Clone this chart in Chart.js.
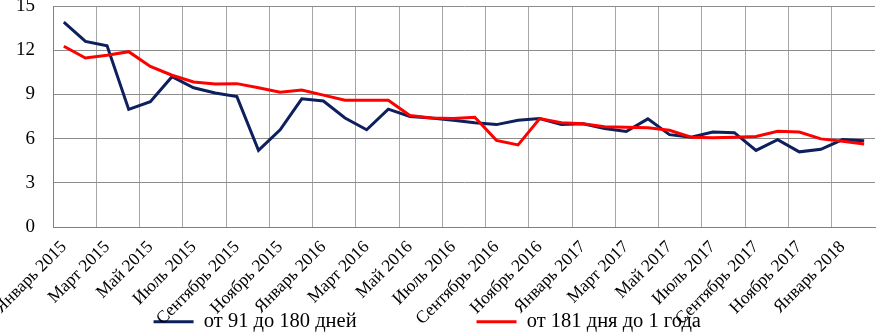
<!DOCTYPE html>
<html>
<head>
<meta charset="utf-8">
<script src="https://cdn.jsdelivr.net/npm/chart.js@4"></script>
<style>
  html, body { margin: 0; padding: 0; background: #fff; }
  #wrap { width: 876px; height: 332px; }
</style>
</head>
<body>
<div id="wrap"><canvas id="myChart"></canvas></div>
<script>
// months Jan 2015 .. Feb 2018
var months = ['Январь', 'Февраль', 'Март', 'Апрель', 'Май', 'Июнь', 'Июль',
    'Август', 'Сентябрь', 'Октябрь', 'Ноябрь', 'Декабрь'];
var years = [2015, 2016, 2017, 2018];
var labList = [];
for (var y = 0; y < years.length; y++) {
    for (var m = 0; m < 12; m++) {
        if (years[y] === 2018 && m > 1) break;
        labList.push(months[m] + ' ' + years[y]);
    }
}

var seriesNames = ['от 91 до 180 дней', 'от 181 дня до 1 года'];

// от 91 до 180 дней
var dataList1 = [13.9, 12.6, 12.3, 7.98, 8.5, 10.2, 9.45, 9.1, 8.85, 5.2,
    6.6, 8.7, 8.55, 7.4, 6.6, 8.0, 7.5, 7.4, 7.25, 7.07,
    6.95, 7.25, 7.36, 6.95, 7.0, 6.68, 6.48, 7.34, 6.27, 6.1,
    6.45, 6.4, 5.2, 5.93, 5.1, 5.27, 5.93, 5.86];

// от 181 дня до 1 года
var dataList2 = [12.27, 11.47, 11.66, 11.9, 10.9, 10.3, 9.84, 9.7, 9.73, 9.45,
    9.15, 9.3, 8.95, 8.6, 8.6, 8.6, 7.57, 7.4, 7.36, 7.45,
    5.88, 5.57, 7.36, 7.07, 7.0, 6.8, 6.77, 6.73, 6.57, 6.09,
    6.05, 6.1, 6.15, 6.5, 6.45, 5.98, 5.82, 5.64];

var yTicks = [0, 3, 6, 9, 12, 15];

var serif = "'Liberation Serif', 'Times New Roman', serif";
var padBottom = -10;

var data = {
    labels: labList,
    datasets: [{
        label: seriesNames[0],
        data: dataList1,
        borderColor: '#0d1f5c',
        backgroundColor: '#0d1f5c',
        borderWidth: 3,
        pointRadius: 0,
        tension: 0,
        order: 1
    }, {
        label: seriesNames[1],
        data: dataList2,
        borderColor: '#ff0000',
        backgroundColor: '#ff0000',
        borderWidth: 3,
        pointRadius: 0,
        tension: 0,
        order: 0
    }]
};

const config = {
    type: 'line',
    data: data,
    options: {
        responsive: true,
        maintainAspectRatio: false,
        animation: false,
        layout: { padding: { top: 6, right: 1, left: 0, bottom: padBottom } },
        plugins: {
            tooltip: { enabled: false },
            legend: {
                position: 'bottom',
                labels: {
                    font: { family: serif, size: 20.5 },
                    color: '#000',
                    boxWidth: 40,
                    boxHeight: 3,
                    padding: 2,
                    generateLabels: function (chart) {
                        return chart.data.datasets.map(function (ds, i) {
                            // wide gap after the first entry, like the original
                            var gap = i === 0 ? '\u2003\u2003\u2003\u2003\u2003\u2002 ' : '\u2003';
                            return {
                                text: ds.label + gap,
                                fillStyle: ds.borderColor,
                                strokeStyle: ds.borderColor,
                                lineWidth: 0,
                                fontColor: '#000',
                                datasetIndex: i
                            };
                        });
                    }
                }
            }
        },
        scales: {
            x: {
                offset: true,
                grid: {
                    offset: true,
                    drawTicks: false,
                    color: function (ctx) {
                        return ctx.index % 2 === 0 ? '#a6a6a6' : 'rgba(0,0,0,0)';
                    },
                    lineWidth: 1
                },
                border: { color: '#808080', width: 1 },
                ticks: {
                    autoSkip: false,
                    maxRotation: 45,
                    minRotation: 45,
                    padding: 10,
                    color: '#000',
                    font: { family: serif, size: 17.5 },
                    callback: function (v, i) {
                        return i % 2 === 0 ? labList[i] : '';
                    }
                },
                afterFit: function (s) {
                    s.paddingLeft = 0;
                    s.paddingRight = 0;
                    var lh = s.chart.legend ? s.chart.legend.height : 27;
                    s.height = 332 - 227 - lh - padBottom;
                    // labels run down into the legend row, don't clip them
                    s._computeLabelArea = function () { return undefined; };
                }
            },
            y: {
                min: 0,
                max: 15,
                afterBuildTicks: function (s) {
                    s.ticks = yTicks.map(function (v) { return { value: v }; });
                },
                grid: { color: '#8c8c8c', lineWidth: 1, drawTicks: false },
                border: { color: '#808080', width: 1 },
                ticks: {
                    padding: 18,
                    color: '#000',
                    font: { family: serif, size: 19 }
                },
                afterFit: function (s) {
                    s.width = 53;
                    s.paddingTop = 0;
                    s.paddingBottom = 0;
                }
            }
        }
    }
};

var ctx = document.getElementById('myChart').getContext('2d');
const chart = new Chart(ctx, config);
</script>
</body>
</html>
